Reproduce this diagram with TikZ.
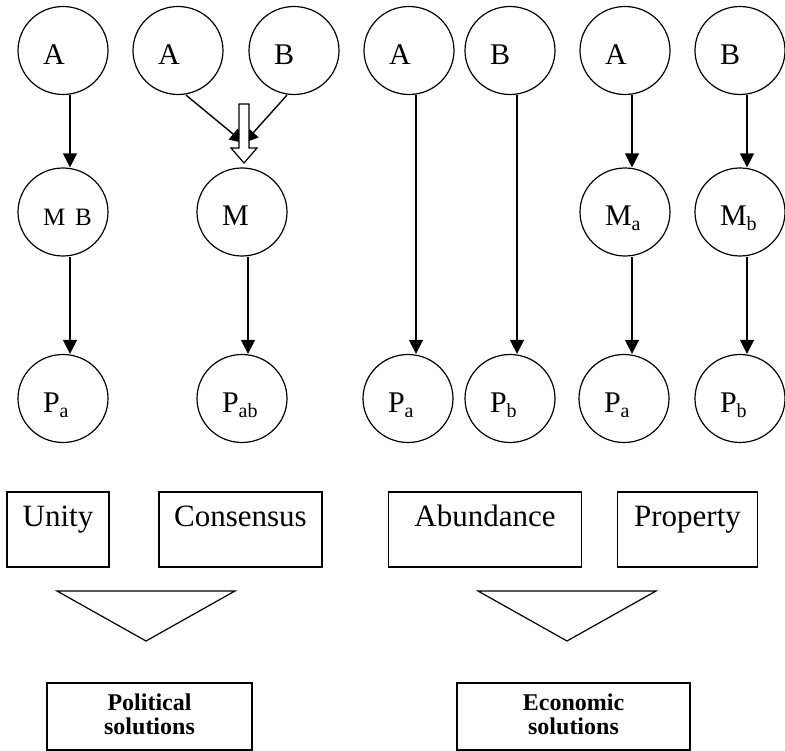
\documentclass[tikz,border=0pt]{standalone}
\usepackage{fontspec}
\setmainfont{Liberation Serif}
\usetikzlibrary{shapes.geometric,arrows.meta}
\newcommand{\cirtext}[1]{\makebox[40pt][l]{#1}}
\newcommand{\lowsub}[1]{\raisebox{-5pt}{\fontsize{20}{20}\selectfont #1}}
\begin{document}
\begin{tikzpicture}[x=1pt,y=-1pt,
  circ/.style={draw, line width=1.2pt, ellipse, minimum width=90pt, minimum height=88pt,
    inner sep=0pt, text height=28pt, text depth=0pt, font=\fontsize{30}{36}\selectfont},
  box/.style={draw, line width=1.2pt, rectangle, inner sep=0pt, align=center,
    minimum height=75pt, text height=20pt, text depth=27pt, font=\fontsize{31}{37}\selectfont},
  solbox/.style={draw, line width=1.2pt, rectangle, inner sep=0pt, align=center,
    minimum height=67pt, text height=20pt, text depth=33pt, font=\fontsize{24}{24}\selectfont\bfseries},
  arr/.style={line width=1.4pt, -{Triangle[length=14pt,width=14pt]}},
  shape line/.style={line width=1.2pt}
]
\useasboundingbox (0,0) rectangle (785,751);

% top row
\node[circ] (a1) at (63,50.5) {\cirtext{A}};
\node[circ] (a2) at (178,50.5) {\cirtext{A}};
\node[circ] (b2) at (294,50.5) {\cirtext{B}};
\node[circ] (a3) at (409,50.5) {\cirtext{A}};
\node[circ] (b3) at (510,50.5) {\cirtext{B}};
\node[circ] (a4) at (625,50.5) {\cirtext{A}};
\node[circ] (b4) at (740,50.5) {\cirtext{B}};

% middle row
\node[circ] (mb) at (63,212) {\cirtext{\fontsize{25}{28}\selectfont M\hspace{10pt}B}};
\node[circ] (m) at (242,212) {\cirtext{M}};
\node[circ] (ma) at (625,212) {\cirtext{M\lowsub{a}}};
\node[circ] (mbb) at (740,212) {\cirtext{M\lowsub{b}}};

% bottom row
\node[circ] (p1) at (63,398.5) {\cirtext{P\lowsub{a}}};
\node[circ] (pab) at (242,398.5) {\cirtext{P\lowsub{ab}}};
\node[circ] (pa3) at (408,398.5) {\cirtext{P\lowsub{a}}};
\node[circ] (pb3) at (510,398.5) {\cirtext{P\lowsub{b}}};
\node[circ] (pa4) at (624,398.5) {\cirtext{P\lowsub{a}}};
\node[circ] (pb4) at (740,398.5) {\cirtext{P\lowsub{b}}};

% arrows
\draw[arr] ([xshift=7pt]a1.south) -- ([xshift=7pt]mb.north);
\draw[arr] ([xshift=7pt]mb.south) -- ([xshift=7pt]p1.north);
\draw[arr] ([xshift=6pt]m.south) -- ([xshift=6pt]pab.north);
\draw[arr] ([xshift=7pt]a3.south) -- ([xshift=8pt]pa3.north);
\draw[arr] ([xshift=7pt]b3.south) -- ([xshift=7pt]pb3.north);
\draw[arr] ([xshift=7pt]a4.south) -- ([xshift=7pt]ma.north);
\draw[arr] ([xshift=7pt]ma.south) -- ([xshift=8pt]pa4.north);
\draw[arr] ([xshift=7pt]b4.south) -- ([xshift=7pt]mbb.north);
\draw[arr] ([xshift=7pt]mbb.south) -- ([xshift=7pt]pb4.north);

% converging arrows and hollow arrow
\coordinate (conv) at (244,143);
\draw[arr] ([xshift=8pt]a2.south) -- (conv);
\draw[arr] ([xshift=-7pt]b2.south) -- (conv);
\draw[shape line, fill=white] (239,104) -- (249,104) -- (249,148) -- (257,148)
  -- (244,163) -- (231,148) -- (239,148) -- cycle;

% boxes
\node[box, text width=102pt] (unity) at (58,529.5) {Unity};
\node[box, text width=163pt] (consensus) at (240.5,529.5) {Consensus};
\node[box, text width=193pt] (abundance) at (485,529.5) {Abundance};
\node[box, text width=140pt] (property) at (687.5,529.5) {Property};

% triangles
\draw[shape line] (57,591) -- (235,591) -- (146,641) -- cycle;
\draw[shape line] (478,591) -- (656,591) -- (567,641) -- cycle;

% solution boxes
\node[solbox, text width=205pt] (political) at (149.5,716.5) {Political\\solutions};
\node[solbox, text width=233pt] (economic) at (573.5,716.5) {Economic\\solutions};
\end{tikzpicture}
\end{document}
